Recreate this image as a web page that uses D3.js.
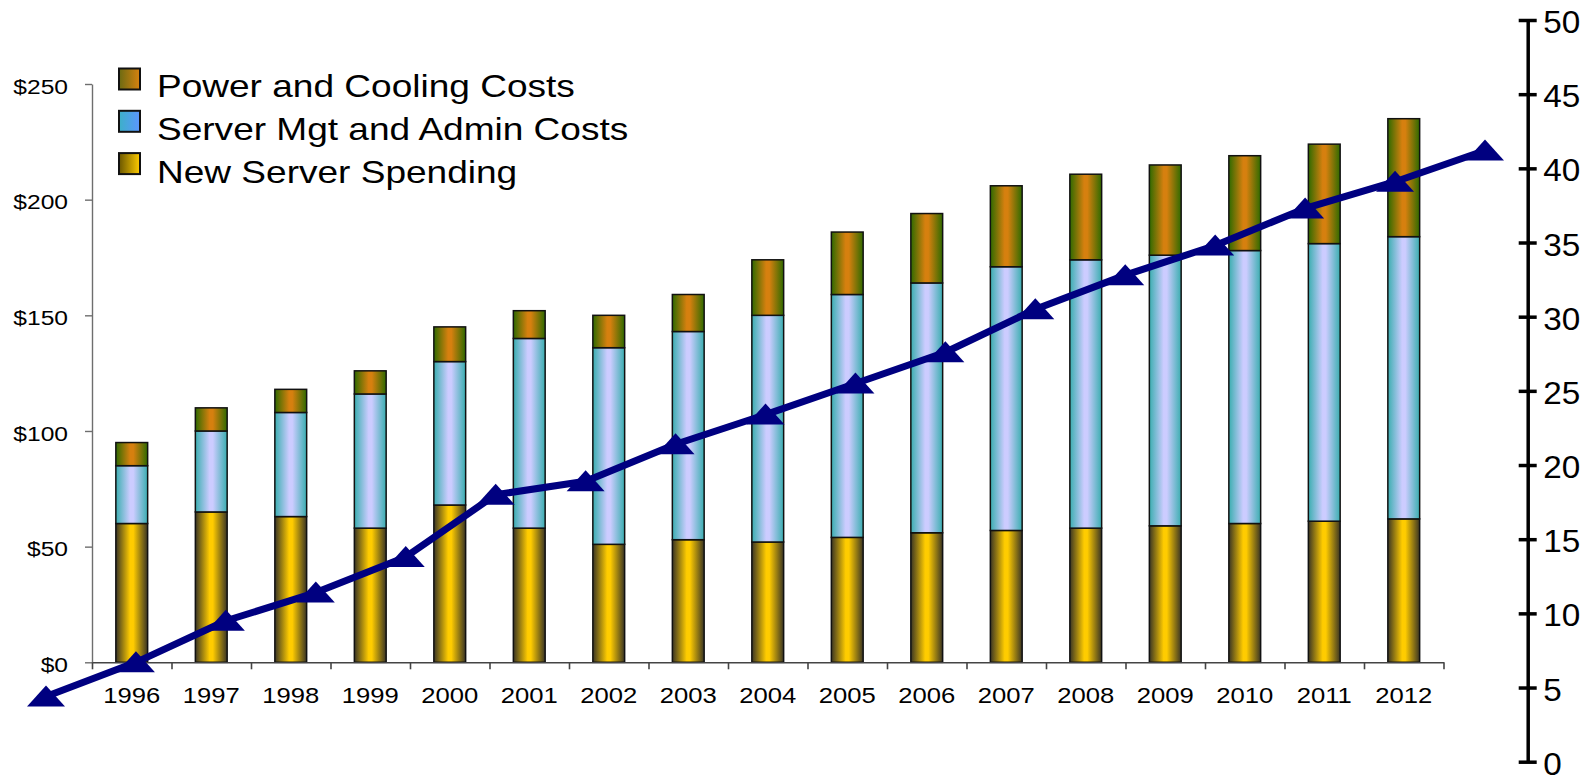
<!DOCTYPE html>
<html>
<head>
<meta charset="utf-8">
<script src="https://cdn.jsdelivr.net/npm/d3@7"></script>
<style>
  body { margin: 0; background: white; }
  text { font-family: "Liberation Sans", Arial, sans-serif; fill: #000; }
</style>
</head>
<body>
<div id="chart"></div>
<script>
/*
 * Server spending chart: stacked bars (left axis) + trend line (right axis)
 */

var years = ["1996","1997","1998","1999","2000","2001","2002","2003","2004",
             "2005","2006","2007","2008","2009","2010","2011","2012"];

// stacked series, in $B
var newServer = [60, 65, 63, 58, 68, 58, 51, 53, 52, 54, 56, 57, 58, 59, 60, 61, 62];
var mgtAdmin  = [25, 35, 45, 58, 62, 82, 85, 90, 98, 105, 108, 114, 116, 117, 118, 120, 122];
var power     = [10, 10, 10, 10, 15, 12, 14, 16, 24, 27, 30, 35, 37, 39, 41, 43, 51];

// line series (right axis)
var lineValues = [4.4, 6.7, 9.5, 11.4, 13.8, 18.0, 18.9, 21.4, 23.4, 25.5, 27.6, 30.5, 32.8, 34.8, 37.3, 39.1, 41.2];

var leftTicks = [0, 50, 100, 150, 200, 250];
var rightTicks = [0, 5, 10, 15, 20, 25, 30, 35, 40, 45, 50];

var legendLabels = ["Power and Cooling Costs", "Server Mgt and Admin Costs", "New Server Spending"];

var W = 1587, H = 781;
var svg = d3.select("#chart").append("svg").attr("width", W).attr("height", H);

var defs = svg.append("defs");

function gradient(id, edge, mid, edge2){
  var g = defs.append("linearGradient").attr("id", id)
    .attr("x1", "0%").attr("x2", "100%").attr("y1", "0%").attr("y2", "0%");
  g.append("stop").attr("offset", "0%").attr("stop-color", edge);
  g.append("stop").attr("offset", "45%").attr("stop-color", mid);
  g.append("stop").attr("offset", "55%").attr("stop-color", mid);
  g.append("stop").attr("offset", "100%").attr("stop-color", edge2 || edge);
}
gradient("gNew", "#3a3524", "#ffcc00");
gradient("gMgt", "#3aaeb0", "#ccccff");
gradient("gPow", "#2f6a00", "#d6800f");

// legend swatch gradients (one-sided)
function swatch(id, a, b){
  var g = defs.append("linearGradient").attr("id", id);
  g.append("stop").attr("offset", "0%").attr("stop-color", a);
  g.append("stop").attr("offset", "100%").attr("stop-color", b);
}
swatch("sPow", "#6b6a12", "#d8820f");
swatch("sMgt", "#3cb0c8", "#5c96ff");
swatch("sNew", "#6a5600", "#ffcc00");

// scales
var x = d3.scaleBand().domain(years).range([92, 1443.5]).paddingInner(0.6).paddingOuter(0.3);
var xEdge = d3.scaleLinear().domain([0, years.length]).range([92, 1443.5]);
var yLeft = d3.scaleLinear().domain([0, 250]).range([662.3, 84]);
var yRight = d3.scaleLinear().domain([0, 50]).range([761.7, 20]);
var xLine = d3.scalePoint().domain(d3.range(lineValues.length)).range([46, 1485]);

/*
 * Left axis
 */
var gl = svg.append("g").attr("transform", "translate(92,0)")
  .call(d3.axisLeft(yLeft).tickValues(leftTicks).tickSize(7).tickSizeOuter(0)
    .tickFormat(function(d){ return "$" + d; }));
gl.select(".domain").attr("stroke", "#6e6e6e").attr("stroke-width", 1.4);
gl.selectAll(".tick line").attr("stroke", "#6e6e6e").attr("stroke-width", 1.4);
gl.selectAll(".tick text").attr("x", -24 / 1.2).attr("y", 2).attr("dy", "0.35em")
  .attr("transform", "scale(1.2,1)")
  .style("font-size", "20.5px").style("font-family", "Liberation Sans, Arial, sans-serif")
  .attr("fill", "#000");

/*
 * Bars
 */
var stacks = [
  { vals: newServer, fill: "url(#gNew)" },
  { vals: mgtAdmin,  fill: "url(#gMgt)" },
  { vals: power,     fill: "url(#gPow)" }
];
var bars = svg.append("g");
for (var i = 0; i < years.length; i++){
  var base = 0;
  for (var s = 0; s < stacks.length; s++){
    var v = stacks[s].vals[i];
    bars.append("rect")
      .attr("x", x(years[i]))
      .attr("width", x.bandwidth())
      .attr("y", yLeft(base + v))
      .attr("height", yLeft(base) - yLeft(base + v))
      .attr("fill", stacks[s].fill)
      .attr("stroke", "#111")
      .attr("stroke-width", 1.5);
    base += v;
  }
}

/*
 * Bottom axis: ticks at category edges, labels centered under bars
 */
var gb = svg.append("g").attr("transform", "translate(0," + yLeft(0) + ")")
  .call(d3.axisBottom(xEdge).tickValues(d3.range(years.length + 1)).tickSize(7)
    .tickSizeOuter(0).tickFormat(""));
gb.select(".domain").attr("stroke", "#444").attr("stroke-width", 1.6);
gb.selectAll(".tick line").attr("stroke", "#444").attr("stroke-width", 1.6);

svg.append("g").selectAll("text").data(years).enter().append("text")
  .attr("transform", function(d){
    return "translate(" + (x(d) + x.bandwidth() / 2) + ",702.7) scale(1.165,1)";
  })
  .attr("text-anchor", "middle")
  .style("font-size", "22px")
  .text(function(d){ return d; });

/*
 * Right axis
 */
var gr = svg.append("g").attr("transform", "translate(1527.7,0)")
  .call(d3.axisRight(yRight).tickValues(rightTicks).tickSize(9).tickSizeOuter(0));
gr.select(".domain").attr("stroke", "#000").attr("stroke-width", 3.5);
gr.selectAll(".tick line").attr("x1", -9).attr("x2", 9)
  .attr("stroke", "#000").attr("stroke-width", 3.5);
gr.selectAll(".tick text").attr("x", 15.5 / 1.04).attr("y", 1).attr("dy", "0.36em")
  .attr("transform", "scale(1.04,1)")
  .style("font-size", "32px").style("font-family", "Liberation Sans, Arial, sans-serif")
  .attr("fill", "#000");

/*
 * Trend line with triangle markers
 */
var line = d3.line()
  .x(function(d, i){ return xLine(i); })
  .y(function(d){ return yRight(d); });

svg.append("path").datum(lineValues)
  .attr("d", line)
  .attr("fill", "none")
  .attr("stroke", "#000080")
  .attr("stroke-width", 7)
  .attr("stroke-linejoin", "round");

svg.append("g").selectAll("path").data(lineValues).enter().append("path")
  .attr("transform", function(d, i){ return "translate(" + xLine(i) + "," + yRight(d) + ")"; })
  .attr("d", "M0,-11L19,10L-19,10Z")
  .attr("fill", "#000080");

/*
 * Legend
 */
var swatches = ["url(#sPow)", "url(#sMgt)", "url(#sNew)"];
var legend = svg.append("g");
legendLabels.forEach(function(label, k){
  legend.append("rect")
    .attr("x", 119).attr("y", 68.5 + k * 42.3)
    .attr("width", 21).attr("height", 21)
    .attr("fill", swatches[k])
    .attr("stroke", "#111").attr("stroke-width", 2);
  legend.append("text")
    .attr("transform", "translate(157," + (97 + k * 43) + ") scale(1.195,1)")
    .style("font-size", "31px")
    .text(label);
});
</script>
</body>
</html>
